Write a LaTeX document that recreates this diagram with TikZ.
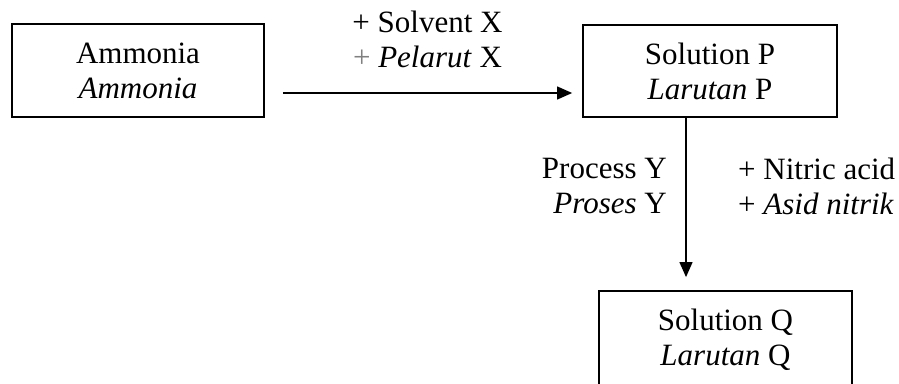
\documentclass[tikz,border=0pt]{standalone}
\usepackage{fontspec}
\setmainfont{Liberation Serif}
\usetikzlibrary{arrows.meta}
\tikzset{
  x=1pt, y=-1pt,
  every node/.style={font=\fontsize{31}{35}\selectfont},
  box/.style={draw, line width=1.8pt, align=center, inner sep=0pt},
  lbl/.style={inner sep=0pt},
  arr/.style={line width=1.2pt, -{Triangle[length=15pt,width=13pt]}},
}
\begin{document}
\begin{tikzpicture}
\useasboundingbox (0,0) rectangle (899,383);
\node[box, minimum width=252pt, minimum height=93pt] (a) at (138,70.5) {Ammonia\\\textit{Ammonia}};
\node[box, minimum width=254pt, minimum height=92pt] (p) at (710,71) {Solution P\\\textit{Larutan} P};
\node[box, minimum width=253pt, minimum height=98pt] (q) at (725.5,340) {Solution Q\\\textit{Larutan} Q};
\draw[arr] ([shift={(18,22.5)}]a.east) -- ([shift={(-10,22)}]p.west)
  node[lbl, midway, align=center, above=25pt] (lx) {+ Solvent X\\\textcolor{black!50}{+} \textit{Pelarut} X};
\coordinate (vtop) at ([xshift=-24pt]p.south);
\coordinate (vend) at ([yshift=13pt]vtop |- q.north);
\draw[arr] (vtop) -- (vend);
\node[lbl, align=right, anchor=east] (ly) at (667,186) {Process Y\\\textit{Proses} Y};
\node[lbl, align=left, anchor=west] (ln) at (738,186) {+ Nitric acid\\+ \textit{Asid nitrik}};
\end{tikzpicture}
\end{document}
